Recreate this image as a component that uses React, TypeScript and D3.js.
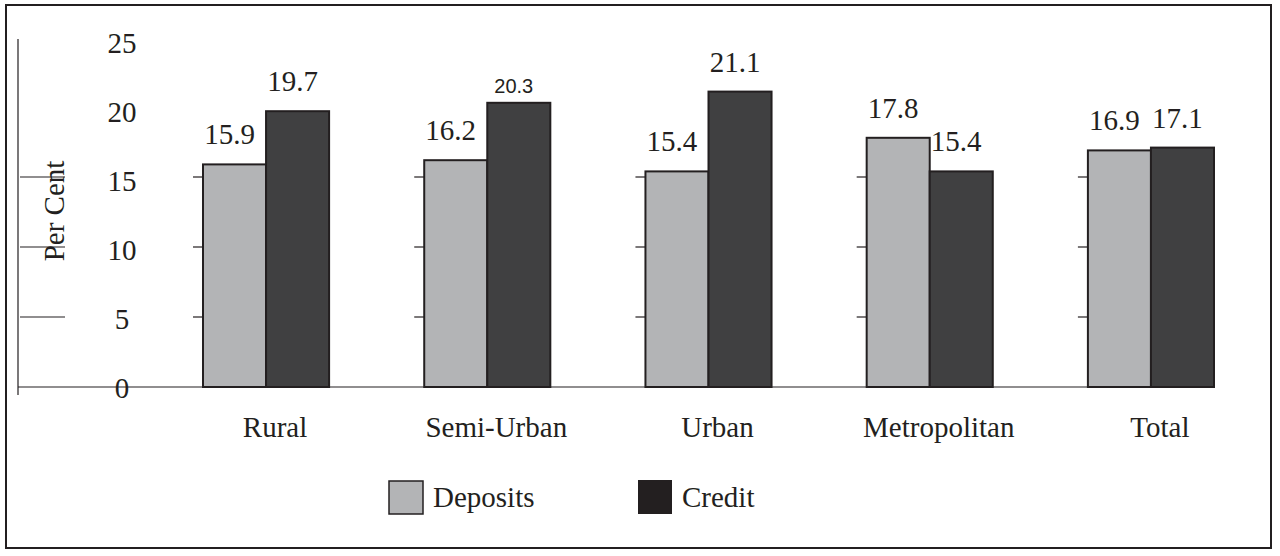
import * as d3 from 'd3'

const width = 1280
const height = 556

const categories = ['Rural', 'Semi-Urban', 'Urban', 'Metropolitan', 'Total']
const series = ['Deposits', 'Credit']
const deposits = [15.9, 16.2, 15.4, 17.8, 16.9]
const credit = [19.7, 20.3, 21.1, 15.4, 17.1]
const yTicks = [0, 5, 10, 15, 20, 25]
const gridTicks = [5, 10, 15]

const colors = { Deposits: '#b3b4b6', Credit: '#404041' }
const ink = '#231f20'
const serif = '"Liberation Serif", "Times New Roman", serif'
const sans = '"Liberation Sans", Arial, sans-serif'

function App() {
  const yScale = d3.scaleLinear().domain([0, 25]).range([387, 37])
  // tick labels in the source sit a little lower than the ticks themselves
  const yLabel = d3.scaleLinear().domain([0, 25]).range([398, 53])

  const xScale = d3
    .scaleBand()
    .domain(categories)
    .range([203, 1214])
    .paddingInner(0.43)
    .paddingOuter(0)

  const xInner = d3
    .scaleBand()
    .domain(series)
    .range([0, xScale.bandwidth()])

  const rows = categories.map((c, i) => ({
    category: c,
    values: [
      { key: 'Deposits', value: deposits[i] },
      { key: 'Credit', value: credit[i] }
    ]
  }))

  return (
    <div style={{ position: 'absolute', left: 0, top: 0 }}>
      <svg width={width} height={height} style={{ display: 'block', background: '#fff' }}>
        <rect x={6} y={5} width={1265} height={543} fill="#fff" stroke={ink} strokeWidth={2} />

        {/* y axis */}
        <line x1={18} x2={18} y1={39} y2={395} stroke={ink} strokeWidth={1.2} />
        {gridTicks.map((t) => (
          <line key={t} x1={20} x2={65} y1={yScale(t)} y2={yScale(t)} stroke={ink} strokeWidth={1.2} />
        ))}
        {yTicks.map((t) => (
          <text
            key={t}
            x={122}
            y={yLabel(t)}
            textAnchor="middle"
            fontFamily={serif}
            fontSize={29}
            fill={ink}
          >
            {t}
          </text>
        ))}
        <text
          transform={`translate(64,${(yScale(15) + yScale(10)) / 2 - 1}) rotate(-90)`}
          textAnchor="middle"
          fontFamily={serif}
          fontSize={29}
          fill={ink}
        >
          Per Cent
        </text>

        {/* small grid stubs left of each group */}
        {categories.map((c) =>
          gridTicks.map((t) => (
            <line
              key={c + t}
              x1={(xScale(c) ?? 0) - 10}
              x2={xScale(c) ?? 0}
              y1={yScale(t)}
              y2={yScale(t)}
              stroke={ink}
              strokeWidth={1.2}
            />
          ))
        )}

        {/* baseline */}
        <line x1={18} x2={1214} y1={yScale(0)} y2={yScale(0)} stroke={ink} strokeWidth={1.2} />

        {rows.map((r) => (
          <g key={r.category} transform={`translate(${xScale(r.category)},0)`}>
            {r.values.map((v) => (
              <rect
                key={v.key}
                x={xInner(v.key)}
                y={yScale(v.value)}
                width={xInner.bandwidth()}
                height={yScale(0) - yScale(v.value)}
                fill={colors[v.key]}
                stroke={ink}
                strokeWidth={2}
              />
            ))}
            {r.values.map((v) => {
              const odd = r.category === 'Semi-Urban' && v.key === 'Credit'
              return (
                <text
                  key={v.key}
                  x={(xInner(v.key) ?? 0) + xInner.bandwidth() / 2 - 5}
                  y={yScale(v.value) - (odd ? 10 : 20)}
                  textAnchor="middle"
                  fontFamily={odd ? sans : serif}
                  fontSize={odd ? 20 : 29}
                  fill={ink}
                >
                  {v.value.toFixed(1)}
                </text>
              )
            })}
            <text
              x={xScale.bandwidth() / 2 + 9}
              y={437}
              textAnchor="middle"
              fontFamily={serif}
              fontSize={29}
              fill={ink}
            >
              {r.category}
            </text>
          </g>
        ))}

        {/* legend */}
        <rect x={389} y={481} width={34} height={33} fill={colors.Deposits} stroke={ink} strokeWidth={1.5} />
        <text x={433} y={507} fontFamily={serif} fontSize={29} fill={ink}>
          {series[0]}
        </text>
        <rect x={638} y={480} width={34} height={34} fill={ink} />
        <text x={682} y={507} fontFamily={serif} fontSize={29} fill={ink}>
          {series[1]}
        </text>
      </svg>
    </div>
  )
}

export default App
